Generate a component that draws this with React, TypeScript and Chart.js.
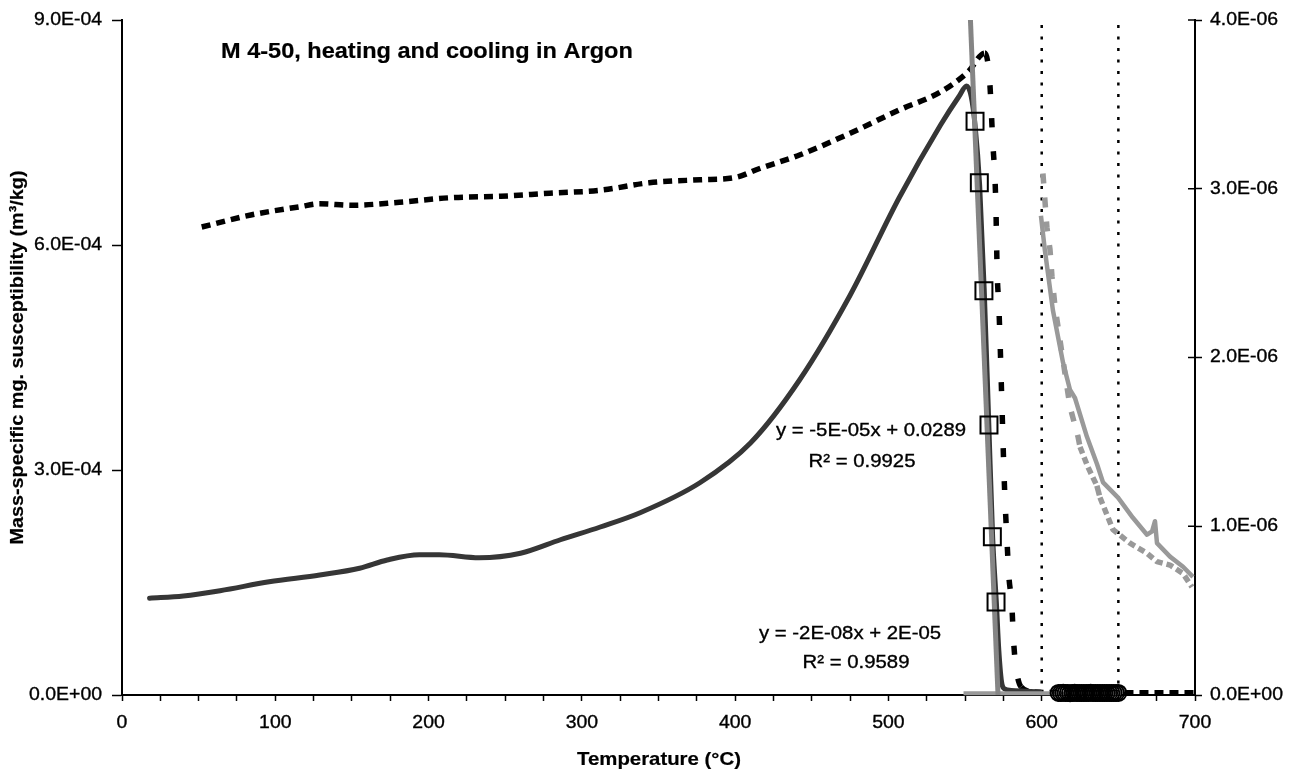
import React, { useEffect, useRef } from "react";
import { Chart, registerables } from "chart.js";

Chart.register(...registerables);

// ---------------- data ----------------
const titleText = "M 4-50, heating and cooling in Argon";
const xTitle = "Temperature (°C)";
const yTitle = "Mass-specific mg. susceptibility (m³/kg)";
const fit1Label = ["y = -5E-05x + 0.0289", "R² = 0.9925"];
const fit2Label = ["y = -2E-08x + 2E-05", "R² = 0.9589"];

const xLabelTicks = [0, 100, 200, 300, 400, 500, 600, 700];
const xMinorStep = 25;
const yLeftTicks = [0, 3e-4, 6e-4, 9e-4];
const yRightTicks = [0, 1e-6, 2e-6, 3e-6, 4e-6];

// heating (dark solid, left axis)
const heatT = [18, 40, 64, 96, 129, 155, 173, 194, 207, 233, 260, 286, 312, 338, 377, 410, 442, 475, 507, 534, 546, 551, 554, 556.5, 559.5, 562.5, 565.5, 568, 570.5, 572, 574, 576, 580, 590, 599];
const heatV = [1.29e-4, 1.32e-4, 1.39e-4, 1.51e-4, 1.6e-4, 1.69e-4, 1.8e-4, 1.87e-4, 1.87e-4, 1.83e-4, 1.89e-4, 2.07e-4, 2.24e-4, 2.43e-4, 2.83e-4, 3.36e-4, 4.2e-4, 5.33e-4, 6.63e-4, 7.6e-4, 7.98e-4, 8.12e-4, 7.98e-4, 7.6e-4, 6.8e-4, 5.4e-4, 3.6e-4, 2.1e-4, 1.2e-4, 0.6e-4, 0.15e-4, 0.08e-4, 0.06e-4, 0.05e-4, 0.04e-4];

// cooling (black dashed, left axis)
const coolT = [52, 84, 116, 129, 150, 181, 214, 247, 279, 312, 344, 377, 400, 416, 442, 475, 507, 534, 552, 563, 566, 568, 570, 571, 572, 573, 574, 575.5, 576.5, 577.5, 578.5, 580.5, 581.5, 583, 586.5, 595, 620, 660, 700];
const coolV = [6.24e-4, 6.4e-4, 6.51e-4, 6.55e-4, 6.53e-4, 6.57e-4, 6.63e-4, 6.65e-4, 6.69e-4, 6.73e-4, 6.83e-4, 6.87e-4, 6.9e-4, 7.02e-4, 7.2e-4, 7.49e-4, 7.8e-4, 8.04e-4, 8.31e-4, 8.56e-4, 8.2e-4, 7.4e-4, 6.6e-4, 5.6e-4, 5.2e-4, 4.6e-4, 3.9e-4, 2.9e-4, 2.4e-4, 2.0e-4, 1.6e-4, 1.2e-4, 0.77e-4, 0.4e-4, 0.11e-4, 0.04e-4, 0.03e-4, 0.03e-4, 0.03e-4];

// right axis, heating (gray solid)
const hotT = [599.5, 602, 607.3, 613.9, 618.4, 621.7, 629.5, 636, 640, 649.8, 659.5, 668.7, 672, 673.9, 675.2, 683.7, 692.2, 698.7];
const hotV = [2.84e-6, 2.64e-6, 2.28e-6, 1.97e-6, 1.81e-6, 1.76e-6, 1.53e-6, 1.37e-6, 1.26e-6, 1.17e-6, 1.05e-6, 0.95e-6, 0.97e-6, 1.03e-6, 0.9e-6, 0.82e-6, 0.76e-6, 0.7e-6];

// right axis, cooling (gray dashed)
const coldT = [600.8, 603.4, 605.4, 606.7, 608.7, 618.4, 623.7, 625, 630.2, 636, 638, 646.5, 657.6, 668.7, 675.2, 683.7, 692.2, 698];
const coldV = [3.09e-6, 2.77e-6, 2.64e-6, 2.48e-6, 2.3e-6, 1.71e-6, 1.53e-6, 1.47e-6, 1.35e-6, 1.24e-6, 1.17e-6, 0.98e-6, 0.9e-6, 0.84e-6, 0.79e-6, 0.77e-6, 0.72e-6, 0.64e-6];

// fit points (open squares)
const sqT = [556.5, 559.3, 562.3, 565.6, 567.8, 570.2];
const sqV = [7.65e-4, 6.83e-4, 5.39e-4, 3.6e-4, 2.11e-4, 1.24e-4];

// fit points (open circles) near zero
const ciT = [611, 612.5, 614, 615.5, 617, 618.5, 620, 621.5, 623, 624.5, 626, 627.5, 629, 630.5, 632, 633.5, 635, 636.5, 638, 639.5, 641, 642.5, 644, 645.5, 647, 648.5, 650];
const ciV = [2.8e-6, 2.6e-6, 2.9e-6, 2.7e-6, 2.8e-6, 2.5e-6, 2.7e-6, 2.9e-6, 2.6e-6, 2.8e-6, 2.7e-6, 2.6e-6, 2.8e-6, 2.7e-6, 2.9e-6, 2.6e-6, 2.7e-6, 2.8e-6, 2.6e-6, 2.7e-6, 2.8e-6, 2.6e-6, 2.7e-6, 2.8e-6, 2.6e-6, 2.7e-6, 2.7e-6];

// trend lines
const fit1T = [553.5, 571.5];
const fit1V = [9.0e-4, 0];
const fit2T = [549, 652];
const fit2V = [2.5e-6, 2.5e-6];

// vertical dotted markers
const vLines = [600, 650];

// ---------------- helpers ----------------
const pts = (xs: number[], ys: number[]) => xs.map((x, i) => ({ x, y: ys[i] }));

const fmtE = (v: number) => {
  if (v === 0) return "0.0E+00";
  const e = Math.floor(Math.log10(Math.abs(v)) + 1e-9);
  const m = v / Math.pow(10, e);
  return m.toFixed(1) + "E" + (e < 0 ? "-" : "+") + String(Math.abs(e)).padStart(2, "0");
};

const FONT = '"Liberation Sans", Arial, Helvetica, sans-serif';

function drawText(
  ctx: CanvasRenderingContext2D,
  text: string,
  x: number,
  y: number,
  font: string,
  align: "left" | "center" | "right",
  stretch: number,
  rotate = false,
  heavy = 0.35
) {
  ctx.save();
  ctx.font = font;
  ctx.fillStyle = "#000";
  ctx.strokeStyle = "#000";
  ctx.lineWidth = heavy;
  ctx.textBaseline = "middle";
  ctx.textAlign = "left";
  const w = ctx.measureText(text).width * stretch;
  const off = align === "center" ? -w / 2 : align === "right" ? -w : 0;
  ctx.translate(x, y);
  if (rotate) ctx.rotate(-Math.PI / 2);
  ctx.translate(off, 0);
  ctx.scale(stretch, 1);
  ctx.fillText(text, 0, 0);
  if (heavy > 0) ctx.strokeText(text, 0, 0);
  ctx.restore();
}

const textPlugin = {
  id: "textPlugin",
  afterDraw(chart: any) {
    const ctx: CanvasRenderingContext2D = chart.ctx;
    const { x, y, y2 } = chart.scales;
    const tickFont = `18px ${FONT}`;
    xLabelTicks.forEach((v) => drawText(ctx, String(v), x.getPixelForValue(v), 723, tickFont, "center", 1.08));
    yLeftTicks.forEach((v) => drawText(ctx, fmtE(v), 102, y.getPixelForValue(v), tickFont, "right", 1.08));
    yRightTicks.forEach((v) => drawText(ctx, fmtE(v), 1210, y2.getPixelForValue(v), tickFont, "left", 1.08));
    // inner halves of right ticks
    ctx.save();
    ctx.strokeStyle = "#000";
    ctx.lineWidth = 1.5;
    yRightTicks.forEach((v) => {
      const py = y2.getPixelForValue(v);
      ctx.beginPath();
      ctx.moveTo(y2.left - 7, py);
      ctx.lineTo(y2.left, py);
      ctx.stroke();
    });
    ctx.restore();
    drawText(ctx, titleText, 221, 52, `bold 21.4px ${FONT}`, "left", 1.1, false, 0.2);
    drawText(ctx, xTitle, 659, 760, `bold 18.5px ${FONT}`, "center", 1.1, false, 0.2);
    drawText(ctx, yTitle, 18, (y.top + y.bottom) / 2, `bold 18.5px ${FONT}`, "center", 1.07, true, 0.2);
    const annFont = `18.5px ${FONT}`;
    drawText(ctx, fit1Label[0], 871, 431, annFont, "center", 1.1);
    drawText(ctx, fit1Label[1], 862, 462, annFont, "center", 1.1);
    drawText(ctx, fit2Label[0], 850, 634, annFont, "center", 1.1);
    drawText(ctx, fit2Label[1], 856, 663, annFont, "center", 1.1);
  },
};

const steep = (c: any) => Math.abs(c.p1.y - c.p0.y) > 3 * Math.abs(c.p1.x - c.p0.x);

export default function App() {
  const ref = useRef<HTMLCanvasElement>(null);
  useEffect(() => {
    document.body.style.margin = "0";
    const lineBase = { showLine: true, pointRadius: 0, pointHoverRadius: 0, fill: false, borderCapStyle: "butt", borderJoinStyle: "round" } as any;
    const datasets: any[] = [
      {
        ...lineBase,
        label: "fit points",
        data: pts(sqT, sqV),
        showLine: false,
        pointStyle: "rect",
        pointRadius: 12,
        pointBorderColor: "#000",
        pointBorderWidth: 2,
        pointBackgroundColor: "rgba(0,0,0,0)",
        yAxisID: "y",
        clip: false,
      },
      {
        ...lineBase,
        label: "fit points 2",
        data: pts(ciT, ciV),
        showLine: false,
        pointStyle: "circle",
        pointRadius: 8,
        pointBorderColor: "#000",
        pointBorderWidth: 2,
        pointBackgroundColor: "rgba(0,0,0,0)",
        yAxisID: "y",
        clip: false,
      },
      { ...lineBase, label: "fit1", data: pts(fit1T, fit1V), borderColor: "#858585", borderWidth: 5, yAxisID: "y" },
      { ...lineBase, label: "fit2", data: pts(fit2T, fit2V), borderColor: "#999999", borderWidth: 4, yAxisID: "y", clip: false },
      {
        ...lineBase,
        label: "heating",
        data: pts(heatT, heatV),
        borderColor: "#363636",
        borderWidth: 5,
        cubicInterpolationMode: "monotone",
        borderCapStyle: "round",
        yAxisID: "y",
      },
      {
        ...lineBase,
        label: "cooling",
        data: pts(coolT, coolV),
        borderColor: "#000",
        borderWidth: 5.5,
        borderDash: [9, 6],
        cubicInterpolationMode: "monotone",
        segment: { borderDash: (c: any) => (steep(c) ? [9, 24] : [9, 6]) },
        yAxisID: "y",
        clip: false,
      },
      { ...lineBase, label: "heating2", data: pts(hotT, hotV), borderColor: "#999999", borderWidth: 4.5, yAxisID: "y2" },
      {
        ...lineBase,
        label: "cooling2",
        data: pts(coldT, coldV),
        borderColor: "#999999",
        borderWidth: 5.5,
        borderDash: [7, 4],
        segment: { borderDash: (c: any) => (steep(c) ? [10, 14] : [7, 4]) },
        yAxisID: "y2",
      },
      ...vLines.map((t) => ({
        ...lineBase,
        label: "v" + t,
        data: pts([t, t], [0, 9e-4]),
        borderColor: "#000",
        borderWidth: 2.5,
        borderDash: [3, 8.5],
        yAxisID: "y",
      })),
    ];

    const chart = new Chart(ref.current as HTMLCanvasElement, {
      type: "scatter",
      data: { datasets },
      plugins: [textPlugin],
      options: {
        animation: false,
        responsive: true,
        maintainAspectRatio: false,
        layout: { padding: { top: 20, left: 0, right: 0, bottom: 0 } },
        plugins: { legend: { display: false }, tooltip: { enabled: false }, title: { display: false } },
        events: [],
        scales: {
          x: {
            type: "linear",
            min: 0,
            max: 700,
            afterBuildTicks: (ax: any) => {
              const t: any[] = [];
              for (let v = 0; v <= 700; v += xMinorStep) t.push({ value: v });
              ax.ticks = t;
            },
            afterFit: (ax: any) => {
              ax.height = 78;
            },
            ticks: { display: false },
            grid: { display: true, drawOnChartArea: false, drawTicks: true, tickLength: 6, color: "#000", tickWidth: 1.5 },
            border: { display: true, color: "#000", width: 2 },
          },
          y: {
            type: "linear",
            position: "left",
            min: 0,
            max: 9e-4,
            afterBuildTicks: (ax: any) => {
              ax.ticks = yLeftTicks.map((v) => ({ value: v }));
            },
            afterFit: (ax: any) => {
              ax.width = 122;
            },
            ticks: { display: false },
            grid: { display: true, drawOnChartArea: false, drawTicks: true, tickLength: 10, color: "#000", tickWidth: 1.5 },
            border: { display: true, color: "#000", width: 2 },
          },
          y2: {
            type: "linear",
            position: "right",
            min: 0,
            max: 4e-6,
            afterBuildTicks: (ax: any) => {
              ax.ticks = yRightTicks.map((v) => ({ value: v }));
            },
            afterFit: (ax: any) => {
              ax.width = 94;
            },
            ticks: { display: false },
            grid: { display: true, drawOnChartArea: false, drawTicks: true, tickLength: 7, color: "#000", tickWidth: 1.5 },
            border: { display: true, color: "#000", width: 2 },
          },
        },
      } as any,
    });
    return () => chart.destroy();
  }, []);
  return (
    <div style={{ position: "relative", width: 1289, height: 773 }}>
      <canvas ref={ref} />
    </div>
  );
}
